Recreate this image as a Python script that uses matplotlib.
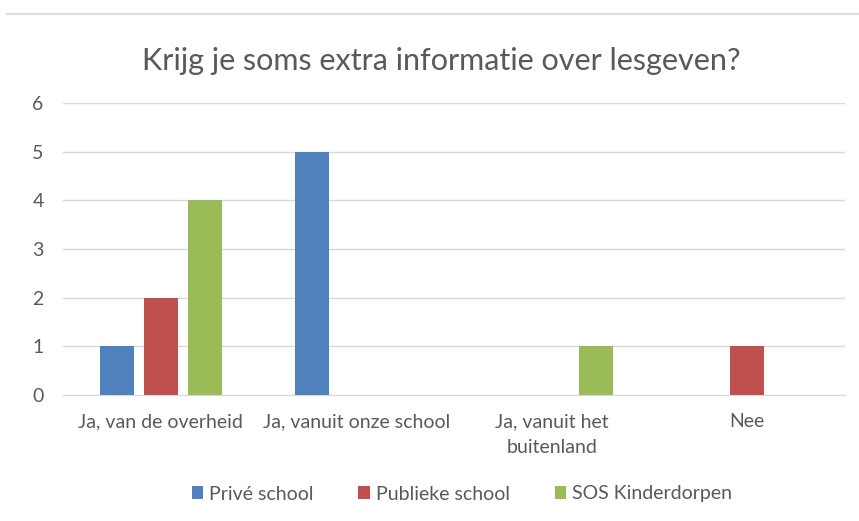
import matplotlib
matplotlib.use("Agg")
import matplotlib.pyplot as plt
import numpy as np
from matplotlib.lines import Line2D

categories = ["Ja, van de overheid", "Ja, vanuit onze school", "Ja, vanuit het\nbuitenland", "Nee"]
series_names = ["Privé school", "Publieke school", "SOS Kinderdorpen"]
prive = [1, 5, 0, 0]
publiek = [2, 0, 0, 1]
sos = [4, 0, 1, 0]
colors = ["#4f81bd", "#c0504d", "#9bbb59"]
title = "Krijg je soms extra informatie over lesgeven?"

plt.rcParams['font.family'] = ['Lato', 'DejaVu Sans']

fig = plt.figure(figsize=(8.59, 5.21), dpi=100)
ax = fig.add_axes([63/859, 1-395/521, (845-63)/859, (395-103)/521])

x = np.arange(len(categories))
w = 0.174
off = 0.225
for i, (vals, name, c) in enumerate(zip([prive, publiek, sos], series_names, colors)):
    ax.bar(x + (i-1)*off, vals, width=w, color=c, label=name, zorder=3)

ax.set_xlim(-0.5, len(categories)-0.5)
ax.set_ylim(0, 6)
ax.set_yticks(range(0, 7))
ax.grid(axis='y', color='#d9d9d9', linewidth=1, zorder=0)
for s in ['top', 'right', 'left']:
    ax.spines[s].set_visible(False)
ax.spines['bottom'].set_color('#d9d9d9')
ax.tick_params(axis='both', length=0, labelsize=14, colors='#595959')
ax.tick_params(axis='x', pad=13)
ax.tick_params(axis='y', pad=14)
ax.set_xticks(x)
ax.set_xticklabels(categories, linespacing=1.65)
for lbl in ax.get_yticklabels():
    lbl.set_horizontalalignment('right')

fig.text(441/859, 1-61/521, title, ha='center', va='center', fontsize=22, color='#595959')

leg = ax.legend(loc='center', bbox_to_anchor=((462-63)/782, (395-494)/292), ncol=3, frameon=False,
                fontsize=14, handlelength=0.6, handleheight=0.6, handletextpad=0.3,
                columnspacing=2.3, labelcolor='#595959')

fig.add_artist(Line2D([7/859, 1], [1-14/521, 1-14/521], color='#dcdcdc', linewidth=1.5))

fig.savefig("out.png", dpi=100, facecolor='white')
